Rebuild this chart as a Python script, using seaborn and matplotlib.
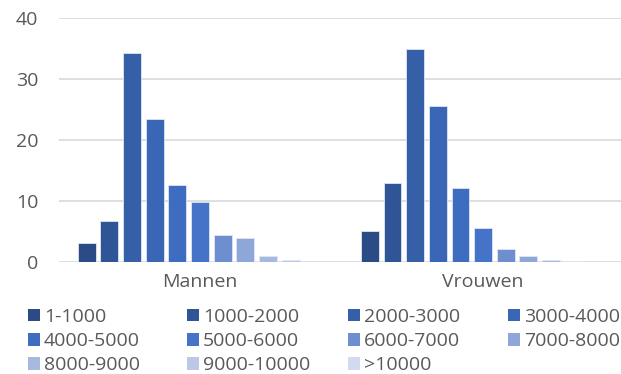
import pandas as pd
import numpy as np
import matplotlib.pyplot as plt
import seaborn as sns

groepen = ['Mannen', 'Vrouwen']
klassen = ['1-1000', '1000-2000', '2000-3000', '3000-4000', '4000-5000', '5000-6000',
           '6000-7000', '7000-8000', '8000-9000', '9000-10000', '>10000']
mannen = [3.1, 6.7, 34.3, 23.5, 12.6, 9.8, 4.4, 4.0, 1.0, 0.3, 0.05]
vrouwen = [5.1, 12.9, 34.9, 25.6, 12.1, 5.6, 2.1, 1.0, 0.4, 0.15, 0.05]
kleuren = ['#2C4A86', '#2F5597', '#3560A8', '#3966B5', '#3D6CC0', '#4473C8',
           '#6F8ECF', '#8FA6D8', '#A8B9E0', '#BDC8E6', '#D2DAEF']

df = pd.DataFrame({
    'groep': np.repeat(groepen, len(klassen)),
    'klasse': klassen * 2,
    'waarde': mannen + vrouwen,
})

sns.set_style('white')
plt.rcParams['font.family'] = ['Open Sans', 'DejaVu Sans']

fig = plt.figure(figsize=(6.21, 3.74), dpi=100)
ax = fig.add_axes([59 / 621, 1 - 262 / 374, 562 / 621, 244 / 374])

sns.barplot(data=df, x='groep', y='waarde', hue='klasse', hue_order=klassen,
            palette=kleuren, saturation=1, width=0.88, gap=0.21, ax=ax, legend=True,
            edgecolor='#dfe6f4', linewidth=0.6, zorder=3)

ax.set_xlim(-0.498, 1.487)
ax.set_ylim(0, 40)
ax.set_yticks([0, 10, 20, 30, 40])
ax.yaxis.grid(True, color='#d9d9d9', linewidth=1.2, zorder=0)
ax.set_axisbelow(True)
for s in ax.spines.values():
    s.set_visible(False)
ax.set_xlabel('')
ax.set_ylabel('')
ax.tick_params(axis='both', length=0, labelsize=14, colors='#595959')
ax.tick_params(axis='x', pad=8)
ax.tick_params(axis='y', pad=15)

handles, labels = ax.get_legend_handles_labels()
ax.get_legend().remove()

# legend in 4 evenly spaced columns, one legend per column
kolom_x = [28, 187, 348, 508]
for k, x in enumerate(kolom_x):
    idx = list(range(k, len(klassen), 4))
    leg = fig.legend([handles[i] for i in idx], [labels[i] for i in idx],
                     loc='upper left', bbox_to_anchor=(x / 621, 1 - 308 / 374),
                     frameon=False, fontsize=14, labelcolor='#595959',
                     handlelength=0.62, handleheight=0.62, handletextpad=0.2,
                     labelspacing=0.32, borderpad=0, borderaxespad=0)
    for h in leg.legend_handles:
        h.set_linewidth(0)

fig.savefig('out.png', dpi=100)
